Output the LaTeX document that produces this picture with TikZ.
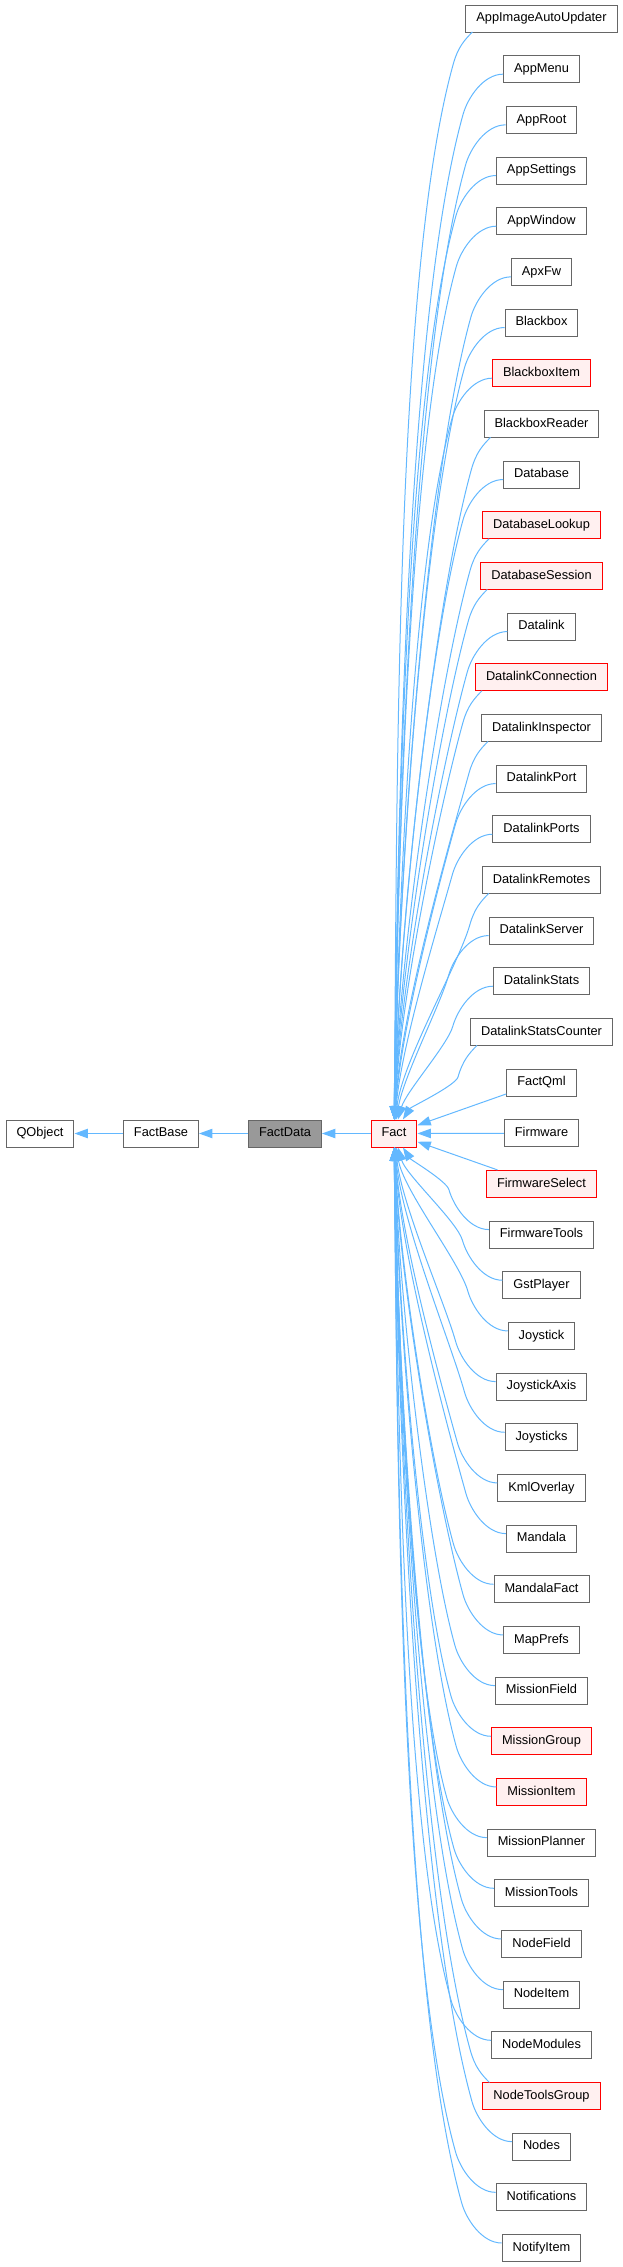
\documentclass[tikz,border=0pt]{standalone}
\usepackage{fontspec}
\setmainfont{Liberation Sans}
\usetikzlibrary{arrows.meta}
\definecolor{edgec}{HTML}{63B8FF}
\definecolor{nb}{HTML}{666666}
\definecolor{rf}{HTML}{FFF0F0}
\definecolor{fd}{HTML}{999999}
\newdimen\mydimx
\begin{document}
\begin{tikzpicture}[x=0.75pt,y=-0.75pt,
  box/.style={draw=nb, fill=white, line width=0.75pt, minimum height=20.25pt,
    inner xsep=7.875pt, inner ysep=0pt, text height=6.9pt, text depth=2pt,
    font=\fontsize{9.6pt}{11pt}\selectfont, text=black},
  redbox/.style={box, draw=red, fill=rf},
  focusbox/.style={box, fill=fd},
  inh/.style={draw=edgec, line width=0.75pt, -{Triangle[length=10pt,width=7pt]}}]
\useasboundingbox (0,0) rectangle (622,2267);

\node[box] (QObject) at (40,1133.5) {QObject};
\node[box] (FactBase) at (161,1133.5) {FactBase};
\node[focusbox] (FactData) at (285,1133.5) {FactData};
\node[redbox] (Fact) at (394,1133.5) {Fact};

\draw[inh] (FactBase) -- (QObject);
\draw[inh] (FactData) -- (FactBase);
\draw[inh] (Fact) -- (FactData);

\foreach \nm/\st [count=\i from 0] in {
  AppImageAutoUpdater/box, AppMenu/box, AppRoot/box, AppSettings/box, AppWindow/box,
  ApxFw/box, Blackbox/box, BlackboxItem/redbox, BlackboxReader/box, Database/box,
  DatabaseLookup/redbox, DatabaseSession/redbox, Datalink/box, DatalinkConnection/redbox,
  DatalinkInspector/box, DatalinkPort/box, DatalinkPorts/box, DatalinkRemotes/box,
  DatalinkServer/box, DatalinkStats/box, DatalinkStatsCounter/box, FactQml/box,
  Firmware/box, FirmwareSelect/redbox, FirmwareTools/box, GstPlayer/box, Joystick/box,
  JoystickAxis/box, Joysticks/box, KmlOverlay/box, Mandala/box, MandalaFact/box,
  MapPrefs/box, MissionField/box, MissionGroup/redbox, MissionItem/redbox,
  MissionPlanner/box, MissionTools/box, NodeField/box, NodeItem/box, NodeModules/box,
  NodeToolsGroup/redbox, Nodes/box, Notifications/box, NotifyItem/box} {
  \pgfmathsetmacro{\yy}{18.5+50.67*\i}
  \node[\st] (n\i) at (541.5,\yy) {\nm};
}

% straight connectors next to Fact
\draw[inh] ([yshift=2pt]n21.south west) -- (Fact);
\draw[inh] (n22) -- (Fact);
\draw[inh] ([xshift=8.6pt]n23.north west) -- (Fact);

\foreach \i in {0,...,20,24,25,...,44} {
  \pgfextractx{\mydimx}{\pgfpointanchor{n\i}{west}}
  \pgfmathsetmacro{\xw}{\mydimx/0.75}
  \pgfmathsetmacro{\yy}{18.5+50.67*\i}
  \pgfmathsetmacro{\dy}{\yy-1133.5}
  \pgfmathsetmacro{\ady}{abs(\dy)}
  \pgfmathsetmacro{\sg}{-\dy/\ady}
  \pgfmathsetmacro{\wide}{\xw<486 ? 1 : 0}
  \pgfmathsetmacro{\sx}{\xw+7*\wide}
  \pgfmathsetmacro{\sxs}{0.75*7*\wide}
  \pgfmathsetmacro{\sys}{-0.75*\sg*(5+8.5*\wide)}
  \pgfmathsetmacro{\sy}{\yy+\sg*(5+8.5*\wide)}
  \pgfmathsetmacro{\cax}{\sx-20+12*\wide}
  \pgfmathsetmacro{\cay}{\sy+8*\sg*\wide}
  \pgfmathsetmacro{\kx}{\xw-40+28*\wide}
  \pgfmathsetmacro{\ky}{\yy+45*\sg}
  \pgfmathsetmacro{\cbx}{\kx+0.28*16}
  \pgfmathsetmacro{\cby}{\ky-16*\sg}
  \pgfmathsetmacro{\DY}{abs(1133.5-\ky)-13.5}
  \pgfmathsetmacro{\Da}{0.2*\DY}
  \pgfmathsetmacro{\qx}{\kx-0.28*\Da}
  \pgfmathsetmacro{\qy}{\ky+\sg*\Da}
  \pgfmathsetmacro{\pax}{396+1500/\ady}
  \pgfmathsetmacro{\pay}{1133.5-\sg*(13.5+0.3*\DY)}
  \draw[inh] ([xshift=\sxs pt,yshift=\sys pt]n\i.west)
     .. controls (\cax,\cay) and (\cbx,\cby) .. (\kx,\ky)
     .. controls (\qx,\qy) and (\pax,\pay) .. (Fact);
}
\end{tikzpicture}
\end{document}
